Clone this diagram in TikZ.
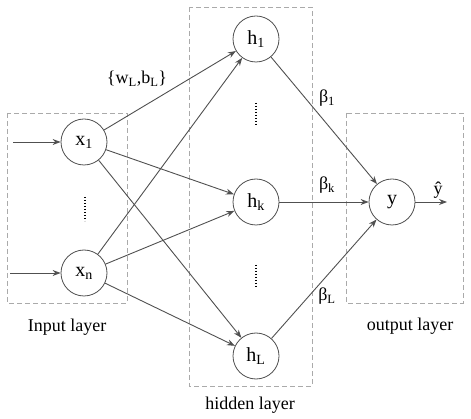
\documentclass[tikz,border=0pt]{standalone}
\usepackage{fontspec}
\setmainfont{Liberation Serif}
\usetikzlibrary{arrows.meta}
\definecolor{edgec}{HTML}{505050}
\definecolor{boxc}{HTML}{AAAAAA}
\tikzset{
  neuron/.style={circle, draw=edgec, line width=0.8pt, minimum size=46pt, inner sep=0pt, font=\fontsize{20}{22}\selectfont},
  layerbox/.style={draw=boxc, line width=0.8pt, dash pattern=on 5pt off 3pt},
  conn/.style={draw=edgec, line width=0.9pt, -{Stealth[length=8pt,width=6pt]}},
  lbl/.style={font=\fontsize{18}{20}\selectfont, inner sep=0pt},
  vdots/.style={draw=black, line width=1.2pt, dash pattern=on 1pt off 2pt}
}
\begin{document}
\begin{tikzpicture}[x=1pt,y=-1pt]
\useasboundingbox (0,0) rectangle (471,419);
% layer boxes
\draw[layerbox] (7,113) rectangle (127,303);
\draw[layerbox] (189,7) rectangle (312,386);
\draw[layerbox] (346,113) rectangle (463,303);
% neurons
\node[neuron] (x1) at (84,142) {x\textsubscript{1}};
\node[neuron] (xn) at (84,273) {x\textsubscript{n}};
\node[neuron] (h1) at (256,39) {h\textsubscript{1}};
\node[neuron] (hk) at (256,202) {h\textsubscript{k}};
\node[neuron] (hL) at (256,356) {h\textsubscript{L}};
\node[neuron] (y) at (392,202) {y};
% input stubs
\coordinate (in1) at (13,142);
\coordinate (inn) at (10,273);
\coordinate (out) at (447,202);
\draw[conn] (in1) -- (x1);
\draw[conn] (inn) -- (xn);
% connections
\foreach \s in {x1,xn}{
  \foreach \t in {h1,hk,hL}{
    \draw[conn] (\s) -- (\t);
  }
}
\foreach \s in {h1,hk,hL}{
  \draw[conn] (\s) -- (y);
}
\draw[conn] (y) -- (out);
% vertical dots
\draw[vdots] (85,197) -- (85,221);
\draw[vdots] (256,103) -- (256,127);
\draw[vdots] (256,265) -- (256,289);
% labels
\node[lbl] (wb) at (137,79) {\{w\textsubscript{L},b\textsubscript{L}\}};
\node[lbl] (b1) at (327,98) {β\textsubscript{1}};
\node[lbl] (bk) at (327,185) {β\textsubscript{k}};
\node[lbl] (bL) at (327,296) {β\textsubscript{L}};
\node[lbl] (yhat) at (438,190) {ŷ};
\node[lbl] (inl) at (67,327) {Input layer};
\node[lbl] (hidl) at (250,405) {hidden layer};
\node[lbl] (outl) at (410,326) {output layer};
\end{tikzpicture}
\end{document}
